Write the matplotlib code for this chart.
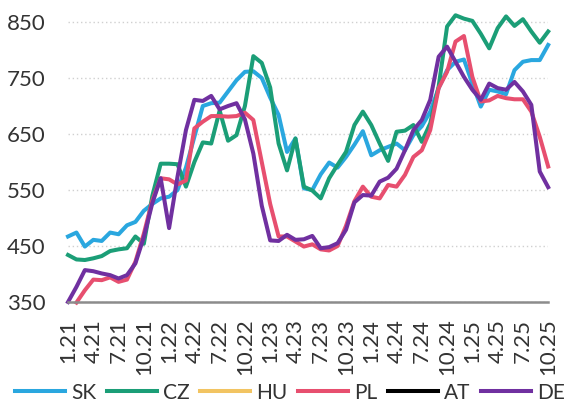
import numpy as np
import matplotlib
matplotlib.use("Agg")
import matplotlib.pyplot as plt

plt.rcParams['font.family'] = ['Lato', 'DejaVu Sans']

# monthly, 1.21 .. 10.25
months = [f"{m}.{y}" for y in range(21, 26) for m in range(1, 13)][:58]
tick_labels = months[::3]

sk = [467, 474, 449, 461, 459, 474, 471, 487, 493, 513, 525, 535, 538, 550, 590,
      645, 700, 705, 706, 726, 746, 761, 762, 750, 715, 684, 618, 642, 553, 550,
      578, 599, 590, 609, 631, 655, 612, 621, 627, 633, 621, 648, 664, 690, 732,
      764, 779, 783, 740, 699, 729, 726, 721, 764, 779, 782, 782, 809]
cz = [434, 426, 425, 428, 432, 441, 444, 446, 467, 454, 539, 597, 597, 596, 556,
      600, 635, 633, 692, 638, 648, 700, 789, 777, 733, 633, 585, 642, 556, 549,
      535, 571, 595, 618, 666, 690, 666, 633, 602, 654, 656, 666, 636, 669, 735,
      842, 862, 856, 852, 829, 803, 839, 860, 843, 855, 833, 813, 833]
hu = []
pl = [np.nan, 349, 371, 390, 389, 394, 386, 390, 422, 472, 531, 571, 569, 560, 567,
      660, 672, 682, 682, 681, 682, 688, 675, 600, 525, 467, 467, 458, 449, 453,
      444, 442, 450, 486, 530, 556, 538, 535, 559, 556, 577, 609, 621, 657, 732,
      761, 815, 825, 752, 708, 710, 718, 714, 712, 712, 690, 645, 592]
at = []
de = [350, 377, 407, 405, 401, 398, 392, 398, 419, 466, 526, 571, 482, 574, 657,
      711, 709, 718, 694, 700, 705, 676, 615, 522, 460, 459, 470, 461, 462, 468,
      446, 448, 455, 479, 528, 541, 540, 565, 572, 588, 621, 657, 675, 711, 788,
      806, 779, 752, 729, 711, 740, 732, 729, 743, 726, 702, 583, 555]

series = [("SK", sk, "#2aa7df"), ("CZ", cz, "#1b9e77"), ("HU", hu, "#f2c462"),
          ("PL", pl, "#e74f6f"), ("AT", at, "#000000"), ("DE", de, "#7030a0")]

fig = plt.figure(figsize=(5.74, 4.09), dpi=100)
ax = fig.add_axes([0.1185, 0.2616, 0.8365, 0.712])

x = np.arange(len(months))
for name, vals, col in series:
    ax.plot(x[:len(vals)], vals, color=col, lw=2.9, label=name, clip_on=False)

ax.set_xlim(0, len(months) - 1)
ax.set_ylim(350, 870)
ax.set_yticks([350, 450, 550, 650, 750, 850])
ax.set_xticks(x[::3])
ax.set_xticklabels(tick_labels, rotation=90)
ax.grid(axis='y', color='#d0d0d0', ls=(0, (1, 2)), lw=1)
ax.set_axisbelow(True)
for s in ['top', 'right', 'left']:
    ax.spines[s].set_visible(False)
ax.spines['bottom'].set_color('#8c8c8c')
ax.spines['bottom'].set_linewidth(1.8)
ax.tick_params(axis='both', length=0, labelsize=16, colors='#333333')
ax.tick_params(axis='y', pad=16)
ax.tick_params(axis='x', pad=12)

fig.legend(loc='lower center', bbox_to_anchor=(0.505, -0.03), ncol=6, frameon=False,
           fontsize=15, handlelength=2.4, handletextpad=0.3, columnspacing=0.5,
           labelcolor='#333333')

fig.savefig("out.png", dpi=100)
